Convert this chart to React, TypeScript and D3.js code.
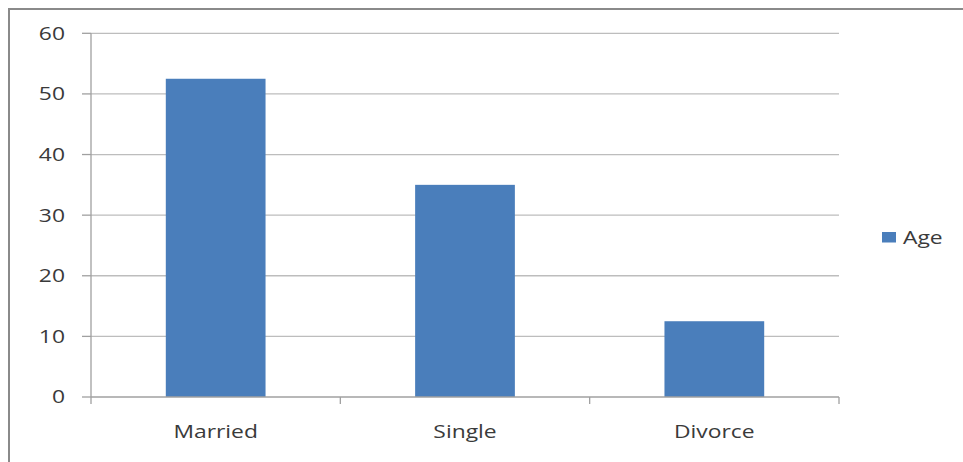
import React from "react";
import * as d3 from "d3";

const categories = ["Married", "Single", "Divorce"];
const ageValues = [52.5, 35, 12.5];
const yTicks = [0, 10, 20, 30, 40, 50, 60];
const seriesName = "Age";

const SX = 1.27;

function T(props: { x: number; y: number; anchor?: string; size?: number; children: React.ReactNode; dy?: string }) {
  return (
    <g transform={`translate(${props.x},${props.y}) scale(${SX},1)`}>
      <text x={0} y={0} dy={props.dy} textAnchor={props.anchor || "start"} fontFamily="'Open Sans', sans-serif" fontSize={props.size || 18} fill="#3a3a3a">
        {props.children}
      </text>
    </g>
  );
}

export default function App() {
  const W = 963, H = 462;
  const left = 91, right = 839, top = 33.3, bottom = 397;
  const x = d3.scaleBand<string>().domain(categories).range([left, right]).paddingInner(0.6).paddingOuter(0.3);
  const xb = d3.scaleBand<string>().domain(categories).range([left, right]);
  const y = d3.scaleLinear().domain([0, 60]).range([bottom, top]);
  const boundaries = [left, ...categories.map((c) => (xb(c) as number) + xb.bandwidth())];
  return (
    <svg width={W} height={H} style={{ position: "absolute", left: 0, top: 0, background: "#fff" }}>
      <rect x={9} y={9} width={1000} height={600} fill="#fff" stroke="#8a8a8a" strokeWidth={2} />
      {yTicks.map((t) => (
        <g key={t}>
          {t > 0 && <line x1={left} x2={right} y1={y(t)} y2={y(t)} stroke="#bdbdbd" strokeWidth={1.3} />}
          <line x1={82} x2={left} y1={y(t)} y2={y(t)} stroke="#a0a0a0" strokeWidth={1.3} />
          <T x={65} y={y(t)} dy="0.36em" anchor="end">{t}</T>
        </g>
      ))}
      <line x1={left} x2={left} y1={top} y2={bottom} stroke="#a0a0a0" strokeWidth={1.3} />
      {ageValues.map((v, i) => (
        <rect key={categories[i]} x={x(categories[i])} y={y(v)} width={x.bandwidth()} height={bottom - y(v)} fill="#4a7ebb" />
      ))}
      <line x1={left} x2={right} y1={bottom} y2={bottom} stroke="#a0a0a0" strokeWidth={1.3} />
      {boundaries.map((bx, i) => (
        <line key={i} x1={bx} x2={bx} y1={bottom} y2={bottom + 7} stroke="#a0a0a0" strokeWidth={1.3} />
      ))}
      {categories.map((c) => (
        <T key={c} x={(xb(c) as number) + xb.bandwidth() / 2} y={438} anchor="middle">{c}</T>
      ))}
      <rect x={882} y={232} width={14} height={10.5} fill="#4a7ebb" />
      <T x={903} y={244}>{seriesName}</T>
    </svg>
  );
}
